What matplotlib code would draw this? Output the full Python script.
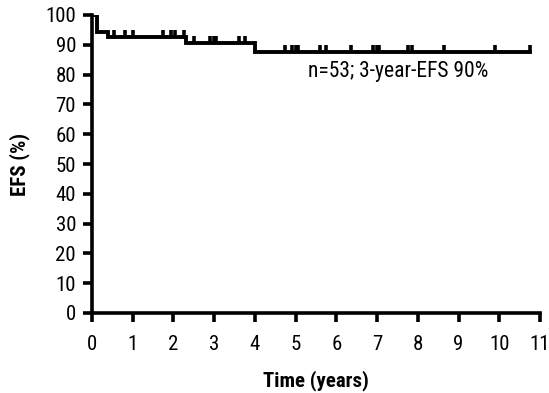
import matplotlib
matplotlib.use("Agg")
import matplotlib.pyplot as plt
import numpy as np

plt.rcParams['font.family'] = ['Roboto Condensed', 'Archivo Narrow', 'DejaVu Sans']

# Kaplan-Meier step data (time in years, EFS %)
event_times = [0.0, 0.12, 0.40, 2.30, 4.00]
surv_levels = [100.0, 94.3, 92.6, 90.6, 87.6]
end_time = 10.76

# censoring times (years)
censor_times = [0.55, 0.80, 1.00, 1.75, 1.95, 2.05, 2.25,
                2.50, 2.90, 3.00, 3.05, 3.60, 3.75,
                4.75, 4.90, 5.00, 5.05, 5.60, 5.75, 6.35,
                6.90, 7.00, 7.05, 7.75, 7.85, 8.65, 9.90, 10.76]

x_ticks = list(range(0, 12))
y_ticks = list(range(0, 101, 10))
annotation = "n=53; 3-year-EFS 90%"

fig = plt.figure(figsize=(5.49, 3.93), dpi=100)
ax = fig.add_axes([92/549, 80/393, (540-92)/549, (313-15)/393])

xs = event_times + [end_time]
ys = surv_levels + [surv_levels[-1]]
ax.step(xs, ys, where='post', color='black', lw=2.8, solid_joinstyle='miter')

def surv_at(t):
    idx = np.searchsorted(event_times, t, side='right') - 1
    return surv_levels[idx]

cy = [surv_at(t) for t in censor_times]
ax.plot(censor_times, np.array(cy) + 1.2, linestyle='none', marker='|',
        markersize=5, markeredgewidth=2.6, color='black')

ax.set_xlim(0, 11)
ax.set_ylim(0, 100)
ax.set_xticks(x_ticks)
ax.set_yticks(y_ticks)
for s in ['top', 'right']:
    ax.spines[s].set_visible(False)
for s in ['left', 'bottom']:
    ax.spines[s].set_linewidth(2.6)
ax.tick_params(axis='both', direction='out', length=6.5, width=2.6, labelsize=15)
ax.tick_params(axis='y', pad=5)
ax.tick_params(axis='x', pad=9)

ax.set_xlabel('Time (years)', fontsize=15, fontweight='bold', labelpad=12)
ax.set_ylabel('EFS (%)', fontsize=15, fontweight='bold', labelpad=11)

ax.text(5.3, 81, annotation, fontsize=15.5, va='center', ha='left')

fig.savefig('out.png', dpi=100)
